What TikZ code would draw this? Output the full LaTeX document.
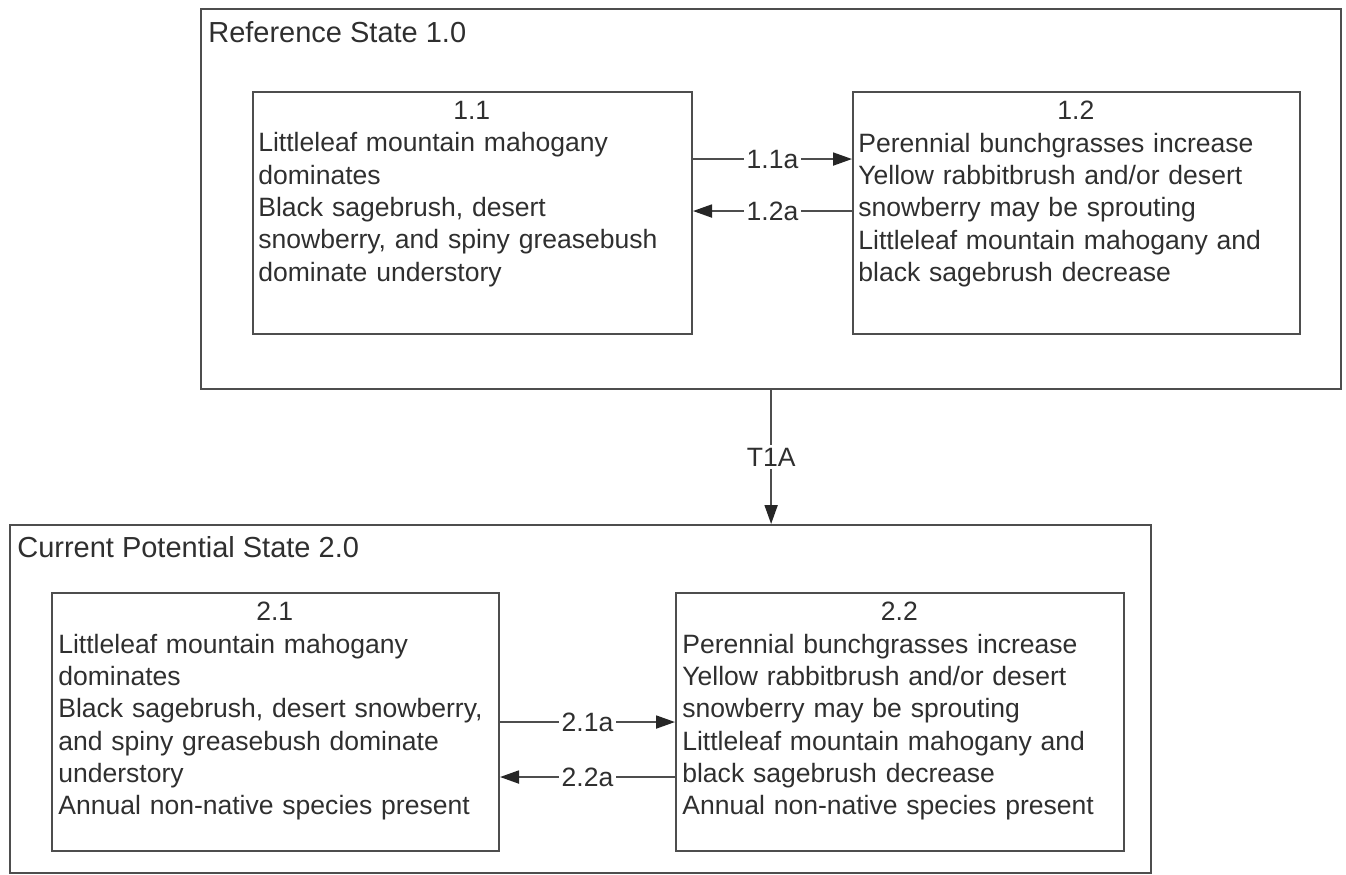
\documentclass[tikz,border=0pt]{standalone}
\usepackage{fontspec}
\setmainfont{Liberation Sans}
\usetikzlibrary{arrows.meta}

\definecolor{linegray}{HTML}{4E4E4E}
\definecolor{textgray}{HTML}{2F2F2F}

\tikzset{
  statebox/.style={draw=linegray, line width=1.4pt, anchor=north west, inner sep=0pt},
  phasebox/.style={draw=linegray, line width=1.2pt, anchor=north west, inner sep=0pt},
  phasetext/.style={anchor=north west, inner sep=0pt, text width=#1, align=left,
    text=textgray, font=\fontsize{15.1}{18.4}\selectfont},
  statetitle/.style={anchor=base west, inner sep=0pt, text=textgray,
    font=\fontsize{16.5}{20}\selectfont},
  trans/.style={draw=linegray, line width=1.1pt,
    -{Triangle[length=0.38cm,width=0.26cm,color=black!85]}},
  translabel/.style={fill=white, inner sep=1.5pt, text=textgray,
    font=\fontsize{15.1}{18}\selectfont}
}

\begin{document}
\begin{tikzpicture}[x=0.02cm, y=-0.02cm]
            \useasboundingbox (0,0) rectangle (1346,875);
            \node[statebox, minimum width=22.8cm, minimum height=7.6cm] (s1) at (200,8) {};
            \node[statetitle] (t1) at (208,43) {Reference State 1.0};
            \node[phasebox, minimum width=8.78cm, minimum height=4.84cm] (p11) at (252,91) {};
            \node[phasebox, minimum width=8.94cm, minimum height=4.84cm] (p12) at (852,91) {};
            \node[phasetext=8.54cm] (x11) at ([shift={(6,10)}]p11.north west) {\hfill 1.1\hfill\null\\Littleleaf mountain mahogany\\dominates\\Black sagebrush, desert\\snowberry, and spiny greasebush\\dominate understory};
            \node[phasetext=8.7cm] (x12) at ([shift={(6,10)}]p12.north west) {\hfill 1.2\hfill\null\\Perennial bunchgrasses increase\\Yellow rabbitbrush and/or desert\\snowberry may be sprouting\\Littleleaf mountain mahogany and\\black sagebrush decrease};
            \draw[trans] ([yshift=1.08cm]p11.east) -- node[translabel] {1.1a} ([yshift=1.08cm]p12.west);
            \draw[trans] ([yshift=0.04cm]p12.west) -- node[translabel] {1.2a} ([yshift=0.04cm]p11.east);
            \node[statebox, minimum width=22.82cm, minimum height=6.96cm] (s2) at (9,524) {};
            \node[statetitle] (t2) at (17,557) {Current Potential State 2.0};
            \node[phasebox, minimum width=8.94cm, minimum height=5.16cm] (p21) at (51,592) {};
            \node[phasebox, minimum width=8.96cm, minimum height=5.16cm] (p22) at (675,592) {};
            \node[phasetext=8.66cm] (x21) at ([shift={(7,10)}]p21.north west) {\hfill 2.1\hfill\null\\Littleleaf mountain mahogany\\dominates\\Black sagebrush, desert snowberry,\\and spiny greasebush dominate\\understory\\Annual non-native species present};
            \node[phasetext=8.68cm] (x22) at ([shift={(7,10)}]p22.north west) {\hfill 2.2\hfill\null\\Perennial bunchgrasses increase\\Yellow rabbitbrush and/or desert\\snowberry may be sprouting\\Littleleaf mountain mahogany and\\black sagebrush decrease\\Annual non-native species present};
            \draw[trans] (p21.east) -- node[translabel] {2.1a} (p22.west);
            \draw[trans] ([yshift=-1.1cm]p22.west) -- node[translabel] {2.2a} ([yshift=-1.1cm]p21.east);
            \draw[trans] (s1.south) -- node[translabel] {T1A} (s1.south |- s2.north);
          \end{tikzpicture}
\end{document}
